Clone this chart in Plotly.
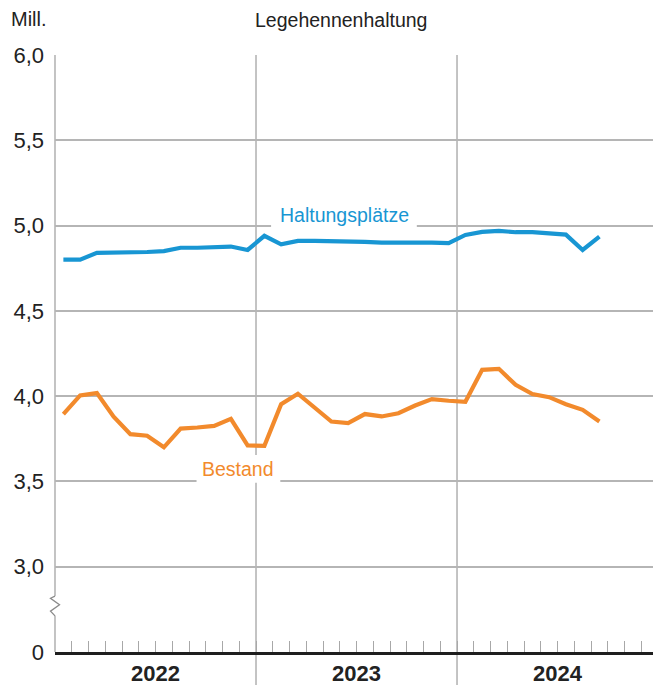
import plotly.graph_objects as go

# Monthly axis: Jan 2022 .. Dec 2024
months = [f"{y}-{m:02d}" for y in (2022, 2023, 2024) for m in range(1, 13)]
years = ["2022", "2023", "2024"]

# Laying-hen keeping, in millions (Jan 2022 .. Sep 2024)
haltungsplaetze = [
    4.80, 4.80, 4.84, 4.84, 4.84, 4.845, 4.85, 4.87, 4.87, 4.875, 4.877, 4.857,
    4.94, 4.89, 4.91, 4.91, 4.91, 4.906, 4.905, 4.90, 4.897, 4.90, 4.90, 4.897,
    4.945, 4.963, 4.969, 4.961, 4.961, 4.951, 4.947, 4.857, 4.935,
]
bestand = [
    3.895, 4.004, 4.018, 3.88, 3.777, 3.768, 3.70, 3.81, 3.816, 3.826, 3.867, 3.711,
    3.709, 3.953, 4.014, 3.933, 3.851, 3.842, 3.895, 3.881, 3.90, 3.945, 3.983, 3.973,
    3.967, 4.154, 4.16, 4.066, 4.012, 3.994, 3.953, 3.92, 3.851,
]

y_tickvals = [2.5, 3.0, 3.5, 4.0, 4.5, 5.0, 5.5, 6.0]
y_ticktext = ["0", "3,0", "3,5", "4,0", "4,5", "5,0", "5,5", "6,0"]

BLUE = "#1896d3"
ORANGE = "#f28a2c"
GRID = "#b5b5b5"
TEXT = "#222222"
FONT = "Liberation Sans, Arial, sans-serif"

X_MIN, X_MAX = -0.5, 35.2
Y_MIN, Y_MAX = 2.5, 6.0
W, H = 653, 685
ML, MR, MT, MB = 55, 0, 55, 33
PW = W - ML - MR
PH = H - MT - MB


def xpaper(xc):
    return (xc - X_MIN) / (X_MAX - X_MIN)


fig = go.Figure()
fig.add_trace(go.Scatter(x=months[:len(haltungsplaetze)], y=haltungsplaetze, mode="lines",
                         line=dict(color=BLUE, width=4.2), hoverinfo="skip"))
fig.add_trace(go.Scatter(x=months[:len(bestand)], y=bestand, mode="lines",
                         line=dict(color=ORANGE, width=4.2), hoverinfo="skip"))

shapes = []
# year separators, running below the base line
for b in (11.5, 23.5):
    shapes.append(dict(type="line", xref="paper", yref="paper",
                       x0=xpaper(b), x1=xpaper(b), y0=-MB / PH, y1=1,
                       line=dict(color=GRID, width=1.6), layer="below"))

# left axis with a break between 0 and 3,0
brk_top, brk_bot = 2.828, 2.712
px = 1.0 / PW
shapes.append(dict(type="line", xref="paper", yref="y", x0=0, x1=0, y0=brk_top, y1=Y_MAX,
                   line=dict(color=GRID, width=1.6), layer="below"))
shapes.append(dict(type="line", xref="paper", yref="y", x0=0, x1=0, y0=Y_MIN, y1=brk_bot,
                   line=dict(color=GRID, width=1.6), layer="below"))
dy = (brk_top - brk_bot) / 4
zig = [(0, brk_top), (-4.5 * px, brk_top - 0.45 * dy), (4.5 * px, brk_top - 1.75 * dy),
       (-4.5 * px, brk_top - 3.05 * dy), (0, brk_bot)]
path = "M " + " L ".join(f"{a:.5f},{b:.4f}" for a, b in zig)
shapes.append(dict(type="path", xref="paper", yref="y", path=path,
                   line=dict(color="#8a8a8a", width=1.3), layer="above"))

# white label backgrounds
shapes.append(dict(type="rect", xref="x", yref="y", x0=12.4, x1=21.1, y0=4.99, y1=5.15,
                   fillcolor="white", line=dict(width=0), layer="above"))
shapes.append(dict(type="rect", xref="x", yref="y", x0=7.95, x1=12.95, y0=3.492, y1=3.655,
                   fillcolor="white", line=dict(width=0), layer="above"))

annotations = [
    dict(text="Haltungsplätze", x=16.8, y=5.062, xref="x", yref="y", showarrow=False,
         font=dict(family=FONT, size=19.5, color=BLUE)),
    dict(text="Bestand", x=10.45, y=3.573, xref="x", yref="y", showarrow=False,
         font=dict(family=FONT, size=19.5, color=ORANGE)),
    dict(text="Legehennenhaltung", x=xpaper(16.55), y=1 + 35 / PH, xref="paper", yref="paper",
         yanchor="middle", showarrow=False, font=dict(family=FONT, size=19.5, color=TEXT)),
    dict(text="Mill.", x=-46 / PW, y=1 + 36 / PH, xref="paper", yref="paper", xanchor="left",
         yanchor="middle", showarrow=False, font=dict(family=FONT, size=20, color=TEXT)),
]
for i, yr in enumerate(years):
    annotations.append(dict(text=f"<b>{yr}</b>", x=12 * i + 5.5, y=-21 / PH, xref="x", yref="paper",
                            yanchor="middle", showarrow=False,
                            font=dict(family=FONT, size=22, color=TEXT)))

fig.update_layout(
    width=W, height=H,
    margin=dict(l=ML, r=MR, t=MT, b=MB, pad=0),
    paper_bgcolor="white", plot_bgcolor="rgba(0,0,0,0)",
    showlegend=False,
    shapes=shapes, annotations=annotations,
    xaxis=dict(type="category", categoryorder="array", categoryarray=months,
               range=[X_MIN, X_MAX], tickson="boundaries", ticks="inside", ticklen=11,
               tickcolor="#a8a8a8", tickwidth=1.2, showticklabels=False, showgrid=False,
               showline=True, linecolor="#1e1e1e", linewidth=2.6, zeroline=False, fixedrange=True),
    yaxis=dict(range=[Y_MIN, Y_MAX], tickvals=y_tickvals, ticktext=y_ticktext,
               tickfont=dict(family=FONT, size=22, color=TEXT), ticks="", ticklabelstandoff=10,
               showgrid=True, gridcolor=GRID, gridwidth=1.6, zeroline=False, showline=False,
               fixedrange=True),
)

fig.write_html("out.html", config={"displayModeBar": False})
